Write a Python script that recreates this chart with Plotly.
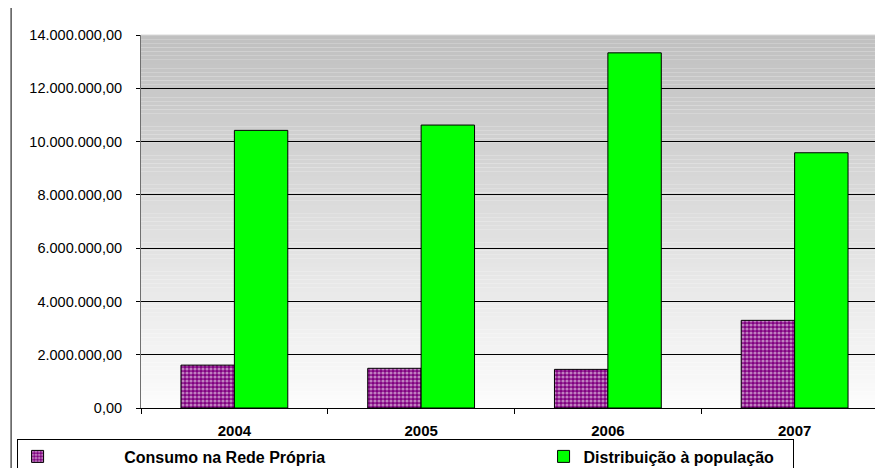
import plotly.graph_objects as go

years = ["2004", "2005", "2006", "2007"]
consumo = [1610000, 1490000, 1450000, 3290000]
distribuicao = [10420000, 10620000, 13330000, 9580000]
series_names = ["Consumo na Rede Própria", "Distribuição à população"]

# page body has an 8px margin: figure drawn at (8, 8) in the 883x468 window
OFF = 8
PLOT_L, PLOT_R, PLOT_T, PLOT_B = 140.5, 888, 35, 408   # window pixels
W, H = int(PLOT_R - OFF), 468 - OFF
ML, MR, MT, MB = PLOT_L - OFF, 0, PLOT_T - OFF, 468 - PLOT_B
PW = W - ML - MR
PH = H - MT - MB

def px2paper_x(px):
    return (px - OFF - ML) / PW

def px2paper_y(py):
    return (H - MB - (py - OFF)) / PH

FONT = "Arial, Liberation Sans, sans-serif"
NB = "\u00a0"

fig = go.Figure()
fig.add_trace(go.Bar(
    x=years, y=consumo, name=NB * 15 + series_names[0] + NB * 48,
    marker=dict(color="#800080", line=dict(color="black", width=1),
                pattern=dict(shape=".", fgcolor="white", bgcolor="#800080",
                             size=4, solidity=0.5)),
))
fig.add_trace(go.Bar(
    x=years, y=distribuicao, name=series_names[1] + NB * 3,
    marker=dict(color="#00FF00", line=dict(color="black", width=1)),
))

# gradient plot background
shapes = []
N = 90
for i in range(N):
    t = i / (N - 1)
    c = int(round(192 + (252 - 192) * (1 - t)))
    shapes.append(dict(type="rect", xref="paper", yref="paper", layer="below",
                       x0=0, x1=1, y0=i / N, y1=(i + 1) / N,
                       fillcolor=f"rgb({c},{c},{c})", line=dict(width=0)))
shapes.append(dict(type="line", xref="paper", yref="paper", layer="above",
                   x0=0, x1=1, y0=1, y1=1, line=dict(color="#d8d8d8", width=1)))
# outer chart frame (left edge)
shapes.append(dict(type="line", xref="paper", yref="paper",
                   x0=px2paper_x(10.5), x1=px2paper_x(10.5),
                   y0=px2paper_y(OFF), y1=px2paper_y(468),
                   line=dict(color="black", width=1)))

fig.update_layout(
    width=W, height=H,
    margin=dict(l=ML, r=MR, t=MT, b=MB, autoexpand=False),
    paper_bgcolor="white", plot_bgcolor="white",
    separators=",.",
    barmode="group", bargap=0.428, bargroupgap=0,
    shapes=shapes,
    font=dict(family=FONT, color="black"),
    showlegend=True,
    legend=dict(orientation="h", x=px2paper_x(16), xanchor="left",
                y=px2paper_y(438.5), yanchor="top",
                bgcolor="white", bordercolor="black", borderwidth=1,
                font=dict(size=16, family=FONT, weight="bold"),
                traceorder="normal"),
    xaxis=dict(type="category", showgrid=False, showline=True, linecolor="black",
               linewidth=1, ticks="outside", tickson="boundaries", ticklen=5,
               tickcolor="black", tickfont=dict(size=15, weight="bold"),
               ticklabelstandoff=9),
    yaxis=dict(range=[0, 14e6], dtick=2e6, tickformat=",.2f", showgrid=True,
               gridcolor="black", gridwidth=1, showline=True, linecolor="#707070",
               linewidth=1, ticks="outside", ticklen=4, tickcolor="black",
               tickfont=dict(size=14.5), ticklabelstandoff=11, zeroline=False),
)

fig.write_html("out.html")
